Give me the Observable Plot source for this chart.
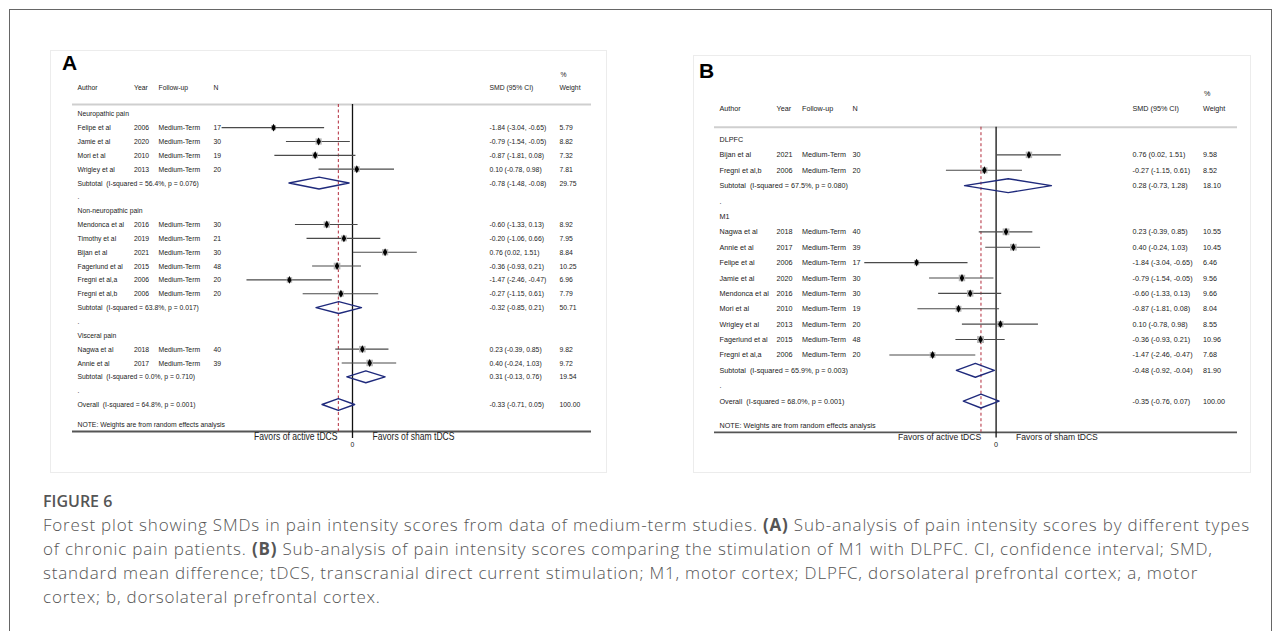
<!DOCTYPE html>
<html><head><meta charset="utf-8">
<script src="https://cdn.jsdelivr.net/npm/d3@7"></script>
<script src="https://cdn.jsdelivr.net/npm/@observablehq/plot@0.6"></script>
<style>
html,body{margin:0;padding:0;background:#fff;width:1282px;height:631px;overflow:hidden;position:relative;}
#frame{position:absolute;left:9px;top:9px;width:1261px;height:700px;border:1.5px solid #666;}
.panel{position:absolute;border:1px solid #ececec;box-sizing:border-box;}
.svgwrap{position:absolute;}
.plabel{position:absolute;font:bold 21px "Liberation Sans",Arial,sans-serif;color:#000;line-height:21px;}
#figlabel{position:absolute;left:43px;top:490px;font:600 16px "Open Sans",sans-serif;color:#555;line-height:22px;}
#caption{position:absolute;left:43px;top:513px;font:300 17px "Open Sans",sans-serif;color:#555;line-height:24px;white-space:nowrap;letter-spacing:0.8px;}
#caption b{font-weight:700;}
svg text{white-space:pre;}
</style></head><body>
<div id="frame"></div>
<div class="panel" style="left:50px;top:50px;width:557px;height:423px;"></div>
<div class="panel" style="left:693px;top:55px;width:558px;height:418px;"></div>
<div id="plotA" class="svgwrap" style="left:50px;top:50px;"></div>
<div id="plotB" class="svgwrap" style="left:693px;top:53px;"></div>
<div class="plabel" style="left:62px;top:52px;">A</div>
<div class="plabel" style="left:699px;top:60px;">B</div>
<div id="figlabel">FIGURE 6</div>
<div id="caption">Forest plot showing SMDs in pain intensity scores from data of medium-term studies. <b>(A)</b> Sub-analysis of pain intensity scores by different types<br>of chronic pain patients. <b>(B)</b> Sub-analysis of pain intensity scores comparing the stimulation of M1 with DLPFC. CI, confidence interval; SMD,<br>standard mean difference; tDCS, transcranial direct current stimulation; M1, motor cortex; DLPFC, dorsolateral prefrontal cortex; a, motor<br>cortex; b, dorsolateral prefrontal cortex.</div>
<script>
// ---------- Panel A data ----------
const authorsA = ["Felipe et al","Jamie et al","Mori et al","Wrigley et al","Mendonca et al","Timothy et al","Bijan et al","Fagerlund et al","Fregni et al,a","Fregni et al,b","Nagwa et al","Annie et al"];
const yearsA = [2006,2020,2010,2013,2016,2019,2021,2015,2006,2006,2018,2017];
const followA = ["Medium-Term","Medium-Term","Medium-Term","Medium-Term","Medium-Term","Medium-Term","Medium-Term","Medium-Term","Medium-Term","Medium-Term","Medium-Term","Medium-Term"];
const nA = [17,30,19,20,30,21,30,48,20,20,40,39];
const smdA = [-1.84,-0.79,-0.87,0.10,-0.60,-0.20,0.76,-0.36,-1.47,-0.27,0.23,0.40];
const loA = [-3.04,-1.54,-1.81,-0.78,-1.33,-1.06,0.02,-0.93,-2.46,-1.15,-0.39,-0.24];
const hiA = [-0.65,-0.05,0.08,0.98,0.13,0.66,1.51,0.21,-0.47,0.61,0.85,1.03];
const weightA = [5.79,8.82,7.32,7.81,8.92,7.95,8.84,10.25,6.96,7.79,9.82,9.72];
const groupOfA = [0,0,0,0,1,1,1,1,1,1,2,2];
const groupsA = ["Neuropathic pain","Non-neuropathic pain","Visceral pain"];
const subI2A = [56.4,63.8,0.0];
const subPA = [0.076,0.017,0.710];
const subSmdA = [-0.78,-0.32,0.31];
const subLoA = [-1.48,-0.85,-0.13];
const subHiA = [-0.08,0.21,0.76];
const subWeightA = [29.75,50.71,19.54];
const overallA = [64.8,0.001,-0.33,-0.71,0.05,100.00]; // I2, p, SMD, lo, hi, weight

// ---------- Panel B data ----------
const authorsB = ["Bijan et al","Fregni et al,b","Nagwa et al","Annie et al","Felipe et al","Jamie et al","Mendonca et al","Mori et al","Wrigley et al","Fagerlund et al","Fregni et al,a"];
const yearsB = [2021,2006,2018,2017,2006,2020,2016,2010,2013,2015,2006];
const followB = ["Medium-Term","Medium-Term","Medium-Term","Medium-Term","Medium-Term","Medium-Term","Medium-Term","Medium-Term","Medium-Term","Medium-Term","Medium-Term"];
const nB = [30,20,40,39,17,30,30,19,20,48,20];
const smdB = [0.76,-0.27,0.23,0.40,-1.84,-0.79,-0.60,-0.87,0.10,-0.36,-1.47];
const loB = [0.02,-1.15,-0.39,-0.24,-3.04,-1.54,-1.33,-1.81,-0.78,-0.93,-2.46];
const hiB = [1.51,0.61,0.85,1.03,-0.65,-0.05,0.13,0.08,0.98,0.21,-0.47];
const weightB = [9.58,8.52,10.55,10.45,6.46,9.56,9.66,8.04,8.55,10.96,7.68];
const groupOfB = [0,0,1,1,1,1,1,1,1,1,1];
const groupsB = ["DLPFC","M1"];
const subI2B = [67.5,65.9];
const subPB = [0.080,0.003];
const subSmdB = [0.28,-0.48];
const subLoB = [-0.73,-0.92];
const subHiB = [1.28,-0.04];
const subWeightB = [18.10,81.90];
const overallB = [68.0,0.001,-0.35,-0.76,0.07,100.00];

const headers = ["Author","Year","Follow-up","N","SMD (95% CI)","Weight"];
const axisLabels = ["Favors of active tDCS","Favors of sham tDCS","0"];
const noteText = "NOTE: Weights are from random effects analysis";

const f2 = v => v.toFixed(2);

function buildRows(p) {
  const rows = [], studies = [], diamonds = [];
  let r = 0;
  p.groups.forEach((g, gi) => {
    rows.push({row: r++, label: g});
    p.authors.forEach((a, i) => {
      if (p.groupOf[i] !== gi) return;
      const d = {row: r++, label: a, year: String(p.years[i]), follow: p.follow[i], n: String(p.n[i]),
        smd: p.smd[i], lo: p.lo[i], hi: p.hi[i], w: p.weight[i]};
      rows.push(d); studies.push(d);
    });
    const s = {row: r++, label: `Subtotal  (I-squared = ${p.subI2[gi].toFixed(1)}%, p = ${p.subP[gi].toFixed(3)})`,
      smd: p.subSmd[gi], lo: p.subLo[gi], hi: p.subHi[gi], w: p.subW[gi]};
    rows.push(s); diamonds.push(s);
    rows.push({row: r++, label: "."});
  });
  const o = p.overall;
  const ov = {row: r++, label: `Overall  (I-squared = ${o[0].toFixed(1)}%, p = ${o[1].toFixed(3)})`,
    smd: o[2], lo: o[3], hi: o[4], w: o[5]};
  rows.push(ov); diamonds.push(ov);
  rows.forEach(d => { if (d.smd !== undefined) { d.ci = `${f2(d.smd)} (${f2(d.lo)}, ${f2(d.hi)})`; d.wt = f2(d.w); } });
  return {rows, studies, diamonds, overall: ov, nRows: r};
}

function makePanel(p, L) {
  const {rows, studies, diamonds, overall, nRows} = buildRows(p);
  const pts = [];
  diamonds.forEach((d, k) => {
    [[d.lo, d.row], [d.smd, d.row - L.dh], [d.hi, d.row], [d.smd, d.row + L.dh], [d.lo, d.row]]
      .forEach(([x, y]) => pts.push({x, y, id: k}));
  });
  const txt = (data, opts, dx) => Plot.text(data, {y: "row", frameAnchor: "left", textAnchor: "start", dx, fill: "#222", ...opts});
  const hdr = (s, dx, row) => Plot.text([s], {text: d => d, y: () => row, frameAnchor: "left", textAnchor: "start", dx, fill: "#222"});
  const C = L.cols;
  return Plot.plot({
    width: L.width, height: L.height,
    marginTop: 0, marginBottom: 0, marginLeft: L.ml, marginRight: L.mr,
    x: {domain: [-4, 4], range: L.xr, axis: null},
    y: {domain: [0, nRows - 1], range: L.yr, axis: null},
    r: {type: "sqrt", domain: [0, 11], range: [0, 3.9]},
    style: {fontFamily: '"Liberation Sans",Arial,sans-serif', fontSize: L.fs + "px", background: "transparent", overflow: "visible"},
    marks: [
      Plot.ruleY([L.sep], {y: d => d, stroke: "#cfcfcf", strokeWidth: 2}),
      Plot.ruleY([L.axis], {y: d => d, stroke: "#555", strokeWidth: 1.8}),
      Plot.ruleX([overall], {x: "smd", y1: () => L.sep, y2: () => L.axis, stroke: "#b22a3a", strokeWidth: 1, strokeDasharray: "3,2.5"}),
      Plot.ruleX([0], {y1: () => L.sep, y2: () => L.zeroEnd, stroke: "#111", strokeWidth: 1.3}),
      Plot.ruleY(studies, {y: "row", x1: "lo", x2: "hi", stroke: "#4a4a4a", strokeWidth: 1.1}),
      Plot.dot(studies, {x: "smd", y: "row", r: "w", symbol: "square", fill: "#b5b5b5"}),
      Plot.dot(studies, {x: "smd", y: "row", r: 2.4, symbol: "diamond", fill: "#000"}),
      Plot.line(pts, {x: "x", y: "y", z: "id", stroke: "#1f2a7c", strokeWidth: 1.4}),
      // table columns
      hdr(headers[0], C[0], L.hdr), hdr(headers[1], C[1], L.hdr), hdr(headers[2], C[2], L.hdr), hdr(headers[3], C[3], L.hdr),
      hdr(headers[4], C[4], L.hdr), hdr(headers[5], C[5], L.hdr), hdr("%", C[5] + 1, L.pct),
      txt(rows, {text: "label"}, C[0]),
      txt(studies, {text: "year"}, C[1]),
      txt(studies, {text: "follow"}, C[2]),
      txt(studies, {text: "n"}, C[3]),
      txt(rows.filter(d => d.ci), {text: "ci"}, C[4]),
      txt(rows.filter(d => d.wt), {text: "wt"}, C[5]),
      hdr(noteText, C[0], L.note),
      Plot.text([axisLabels[0]], {text: d => d, x: () => 0, y: () => L.fav, dx: -15, textAnchor: "end", fontSize: L.fsFav, fill: "#222"}),
      Plot.text([axisLabels[1]], {text: d => d, x: () => 0, y: () => L.fav, dx: 20, textAnchor: "start", fontSize: L.fsFav, fill: "#222"}),
      Plot.text([axisLabels[2]], {text: d => d, x: () => 0, y: () => L.zero, textAnchor: "middle", fontSize: L.fs, fill: "#222"})
    ]
  });
}

// the original graph uses a horizontally condensed sans font
function condense(svg, k) {
  svg.querySelectorAll("text").forEach(t => {
    const len = t.getComputedTextLength();
    if (len > 0) {
      t.setAttribute("textLength", (len * k).toFixed(2));
      t.setAttribute("lengthAdjust", "spacingAndGlyphs");
    }
  });
}

const panelA = {authors: authorsA, years: yearsA, follow: followA, n: nA, smd: smdA, lo: loA, hi: hiA, weight: weightA,
  groupOf: groupOfA, groups: groupsA, subI2: subI2A, subP: subPA, subSmd: subSmdA, subLo: subLoA, subHi: subHiA, subW: subWeightA, overall: overallA};
const panelB = {authors: authorsB, years: yearsB, follow: followB, n: nB, smd: smdB, lo: loB, hi: hiB, weight: weightB,
  groupOf: groupOfB, groups: groupsB, subI2: subI2B, subP: subPB, subSmd: subSmdB, subLo: subLoB, subHi: subHiB, subW: subWeightB, overall: overallB};

const layoutA = {width: 557, height: 423, ml: 22, mr: 16, xr: [130.4, 473.6], yr: [63.3, 354.0],
  cols: [5, 61.5, 86, 141, 417, 487], hdr: -1.9, pct: -2.85, sep: -0.67, axis: 22.95, zeroEnd: 23.45,
  note: 22.45, fav: 23.35, zero: 23.85, dh: 0.43, fs: 8.0, fsFav: 10.1};
const layoutB = {width: 558, height: 420, ml: 21, mr: 14, xr: [129.8, 475.4], yr: [86.0, 347.6],
  cols: [5, 62, 87.5, 138, 418, 488.5], hdr: -2.0, pct: -3.0, sep: -0.8, axis: 19.03, zeroEnd: 19.4,
  note: 18.55, fav: 19.35, zero: 19.8, dh: 0.45, fs: 8.0, fsFav: 9.5};

const svgA = makePanel(panelA, layoutA);
const svgB = makePanel(panelB, layoutB);
document.getElementById("plotA").appendChild(svgA);
document.getElementById("plotB").appendChild(svgB);
condense(svgA, 0.85);
condense(svgB, 0.9);
</script>
</body></html>
